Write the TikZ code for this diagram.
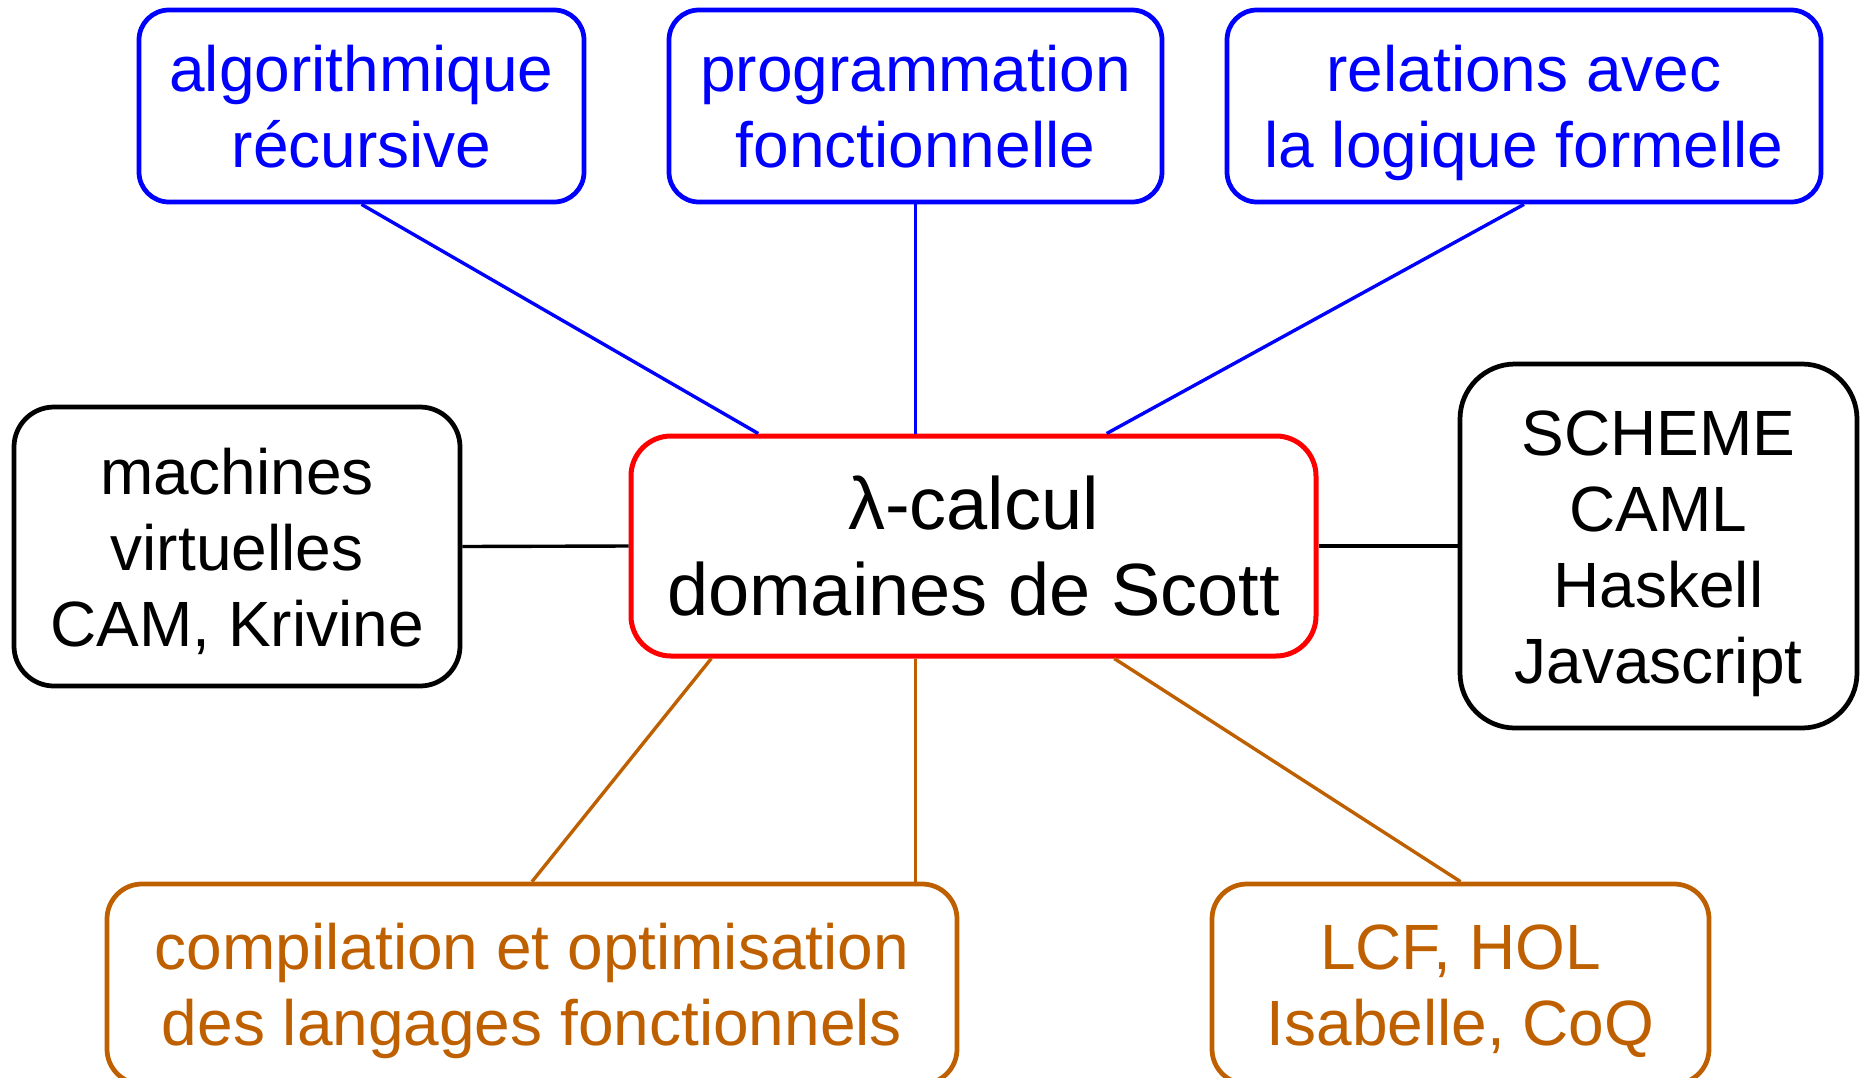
\documentclass[tikz,border=0pt]{standalone}
\usepackage{fontspec}
\setmainfont{Liberation Sans}
\usetikzlibrary{calc}
\definecolor{topblue}{RGB}{0,0,255}
\definecolor{hubred}{RGB}{255,0,0}
\definecolor{lowbrown}{RGB}{191,96,0}
% fixed height for the first line and no depth for the last one,
% so that every text block sits at the same place in its box
\newcommand\firstln[1]{\raisebox{0pt}[47.5pt][0pt]{#1}}
\newcommand\lastln[1]{\raisebox{0pt}[0pt][0pt]{#1}}
\tikzset{
  box/.style={draw, rounded corners=30pt, line width=4.75pt, align=center,
    inner sep=0pt, font=\fontsize{64}{76}\selectfont},
  hub/.style={box, draw=hubred, rounded corners=40pt, line width=5pt,
    font=\fontsize{74}{86}\selectfont},
  link/.style={line width=3.4pt},
}
\begin{document}
\begin{tikzpicture}[x=1pt,y=-1pt]
\useasboundingbox (0,0) rectangle (1861,1077);

% central topic
\node[hub, minimum width=685pt, minimum height=220pt] (ctr) at (973.5,546)
  {λ-calcul\\domaines de Scott};

% upper row
\node[box, draw=topblue, text=topblue, minimum width=445pt, minimum height=192pt]
  (algo) at (361.5,106) {\firstln{algorithmique}\\\lastln{récursive}};
\node[box, draw=topblue, text=topblue, minimum width=493pt, minimum height=192pt]
  (prog) at (915.5,106) {\firstln{programmation}\\\lastln{fonctionnelle}};
\node[box, draw=topblue, text=topblue, minimum width=594pt, minimum height=192pt]
  (rel) at (1524,106) {\firstln{relations avec}\\\lastln{la logique formelle}};

% sides
\node[box, rounded corners=40pt, minimum width=446pt, minimum height=279pt]
  (mach) at (237,546.5) {\firstln{machines}\\virtuelles\\\lastln{CAM, Krivine}};
\node[box, rounded corners=55pt, minimum width=397pt, minimum height=364pt]
  (lang) at (1658.5,546) {\firstln{SCHEME}\\CAML\\Haskell\\\lastln{Javascript}};

% lower row
\node[box, draw=lowbrown, text=lowbrown, rounded corners=35pt,
  minimum width=850pt, minimum height=200pt]
  (comp) at (532,984)
  {\firstln{compilation et optimisation}\\\lastln{des langages fonctionnels}};
\node[box, draw=lowbrown, text=lowbrown, rounded corners=35pt,
  minimum width=497pt, minimum height=200pt]
  (proof) at (1460.5,984) {\firstln{LCF, HOL}\\\lastln{Isabelle, CoQ}};

% attachment points on the central box
\coordinate (ta) at ($(ctr.north west)!0.188!(ctr.north east)$);
\coordinate (tr) at ($(ctr.north west)!0.693!(ctr.north east)$);
\coordinate (bc) at ($(ctr.south west)!0.12!(ctr.south east)$);
\coordinate (bv) at ($(ctr.south west)!0.416!(ctr.south east)$);
\coordinate (bp) at ($(ctr.south west)!0.704!(ctr.south east)$);

% connectors
\draw[link, topblue] (algo.south) -- (ta);
\draw[link, topblue] (prog.south) -- (prog.south |- ctr.north);
\draw[link, topblue] (rel.south) -- (tr);
\draw[link] (mach.east) -- (ctr.west);
\draw[link] (ctr.east) -- (lang.west);
\draw[link, lowbrown] (bc) -- (comp.north);
\draw[link, lowbrown] (bv) -- (bv |- comp.north);
\draw[link, lowbrown] (bp) -- (proof.north);
\end{tikzpicture}
\end{document}
